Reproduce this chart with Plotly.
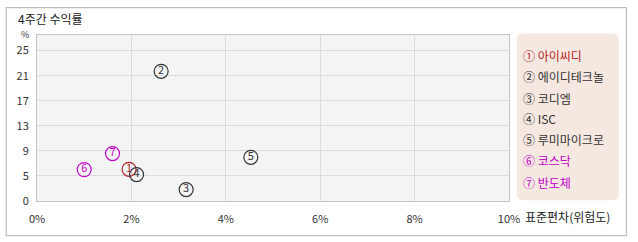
import plotly.graph_objects as go

# ---- data ----
names = ["아이씨디", "에이디테크놀", "코디엠", "ISC", "루미마이크로", "코스닥", "반도체"]
marks = ["①", "②", "③", "④", "⑤", "⑥", "⑦"]
numbers = ["1", "2", "3", "4", "5", "6", "7"]
risk = [1.95, 2.63, 3.16, 2.11, 4.53, 1.00, 1.60]        # 표준편차 (%)
ret = [5.27, 21.56, 1.90, 4.39, 7.26, 5.22, 7.88]        # 4주간 수익률 (%)
colors = ["#b22222", "#333333", "#333333", "#333333", "#333333", "#c000c8", "#c000c8"]
x_ticks = [0, 2, 4, 6, 8, 10]
x_ticktext = ["0%", "2%", "4%", "6%", "8%", "10%"]
y_step = 25 / 6
y_ticks = [i * y_step for i in range(7)]
y_ticktext = ["0", "5", "9", "13", "17", "21", "25"]

W, H = 638, 242
L, R, T, B = 37.3, 509.5, 34.7, 200.7


def px(x):
    return (x - L) / (R - L)


def py(y):
    return (B - y) / (B - T)


FONT = "Noto Sans CJK KR, DejaVu Sans, sans-serif"

fig = go.Figure()
fig.add_trace(go.Scatter(
    x=risk, y=ret, mode="markers+text", text=numbers,
    textposition="middle center",
    textfont=dict(family=FONT, size=11, color=colors),
    marker=dict(symbol="circle-open", size=14, color=colors, line=dict(width=1.2, color=colors)),
    cliponaxis=False, showlegend=False, hoverinfo="skip",
))

shapes = []
# outer frame
shapes.append(dict(type="rect", xref="paper", yref="paper",
                   x0=px(6.5), x1=px(627), y0=py(235.3), y1=py(7.3),
                   line=dict(color="#bdbdbd", width=1.2), fillcolor="rgba(0,0,0,0)", layer="below"))
# legend box with rounded corners
bx0, bx1, by0, by1 = 517.3, 619.3, 33.3, 200.0
r = 6


def pt(x, y):
    return f"{px(x):.5f},{py(y):.5f}"


path = (f"M {pt(bx0 + r, by0)} L {pt(bx1 - r, by0)} Q {pt(bx1, by0)} {pt(bx1, by0 + r)} "
        f"L {pt(bx1, by1 - r)} Q {pt(bx1, by1)} {pt(bx1 - r, by1)} "
        f"L {pt(bx0 + r, by1)} Q {pt(bx0, by1)} {pt(bx0, by1 - r)} "
        f"L {pt(bx0, by0 + r)} Q {pt(bx0, by0)} {pt(bx0 + r, by0)} Z")
shapes.append(dict(type="path", xref="paper", yref="paper", path=path,
                   fillcolor="#f5e8e1", line=dict(width=0), layer="below"))

annotations = []
annotations.append(dict(text="4주간 수익률", xref="paper", yref="paper", x=px(16), y=py(18.5),
                        xanchor="left", yanchor="middle", showarrow=False,
                        font=dict(family=FONT, size=12, color="#222")))
annotations.append(dict(text="%", xref="paper", yref="paper", x=px(25), y=py(34),
                        xanchor="center", yanchor="middle", showarrow=False,
                        font=dict(family=FONT, size=9, color="#333")))
annotations.append(dict(text="표준편차(위험도)", xref="paper", yref="paper", x=px(524), y=py(216),
                        xanchor="left", yanchor="middle", showarrow=False,
                        font=dict(family=FONT, size=12, color="#222")))
leg_y = [55, 76.5, 97.7, 118.5, 139.3, 160.3, 182]
for m, n, c, yy in zip(marks, names, colors, leg_y):
    annotations.append(dict(text=f"{m} {n}", xref="paper", yref="paper", x=px(521.5), y=py(yy),
                            xanchor="left", yanchor="middle", showarrow=False,
                            font=dict(family=FONT, size=12, color=c)))

fig.update_layout(
    width=W, height=H, autosize=False,
    margin=dict(l=L, r=W - R, t=T, b=H - B, pad=0),
    paper_bgcolor="white", plot_bgcolor="#f4f4f4",
    font=dict(family=FONT, size=11, color="#333"),
    shapes=shapes, annotations=annotations,
    xaxis=dict(range=[0, 10], tickvals=x_ticks, ticktext=x_ticktext, showgrid=True,
               gridcolor="#dcdcdc", gridwidth=1, zeroline=False, showline=True,
               linecolor="#c4c4c4", mirror=True, ticks="", ticklabelstandoff=8,
               tickfont=dict(size=11, color="#333"), fixedrange=True),
    yaxis=dict(range=[0, (B - T) / ((B - 50.3) / 25)], tickvals=y_ticks, ticktext=y_ticktext,
               showgrid=True, gridcolor="#dcdcdc", gridwidth=1, zeroline=False, showline=True,
               linecolor="#c4c4c4", mirror=True, ticks="", ticklabelstandoff=5,
               tickfont=dict(size=11, color="#333"), fixedrange=True),
)

fig.write_html("out.html")
